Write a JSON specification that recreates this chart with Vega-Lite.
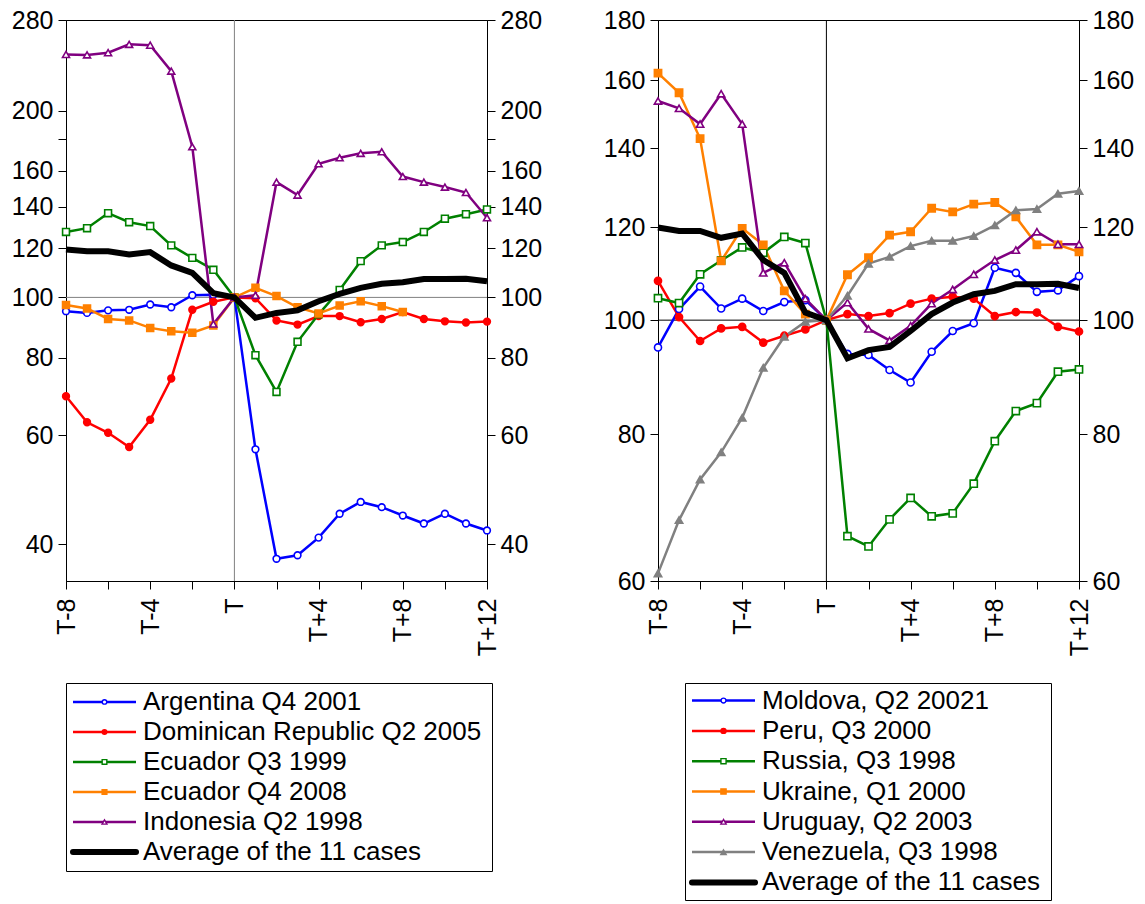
{
  "$schema": "https://vega.github.io/schema/vega-lite/v6.json",
  "background": "white",
  "padding": {"left": 10, "top": 7, "right": 0, "bottom": 0},
  "config": {
    "font": "Liberation Sans",
    "view": {"stroke": "black", "strokeWidth": 1},
    "axis": {"labelFont": "Liberation Sans", "labelFontSize": 25, "labelColor": "black", "domainColor": "black", "tickColor": "black", "tickSize": 8, "grid": false, "title": null, "labelPadding": 5, "labelOverlap": false, "labelFlush": false, "labelBound": false},
    "axisX": {"values": [-8, -7, -6, -5, -4, -3, -2, -1, 0, 1, 2, 3, 4, 5, 6, 7, 8, 9, 10, 11, 12], "labelExpr": "datum.value % 4 == 0 ? (datum.value == 0 ? 'T' : (datum.value > 0 ? 'T+' + datum.value : 'T' + datum.value)) : ''", "labelAngle": 270, "labelPadding": 9}
  },
  "datasets": {
    "left": [
      {"t": -8, "Argentina Q4 2001": 95.0, "Dominican Republic Q2 2005": 69.3, "Ecuador Q3 1999": 127.5, "Ecuador Q4 2008": 97.2, "Indonesia Q2 1998": 246.4, "Average of the 11 cases": 119.5},
      {"t": -7, "Argentina Q4 2001": 94.4, "Dominican Republic Q2 2005": 62.9, "Ecuador Q3 1999": 129.3, "Ecuador Q4 2008": 96.0, "Indonesia Q2 1998": 246.0, "Average of the 11 cases": 118.7},
      {"t": -6, "Argentina Q4 2001": 95.3, "Dominican Republic Q2 2005": 60.5, "Ecuador Q3 1999": 136.7, "Ecuador Q4 2008": 92.3, "Indonesia Q2 1998": 248.0, "Average of the 11 cases": 118.7},
      {"t": -5, "Argentina Q4 2001": 95.5, "Dominican Republic Q2 2005": 57.4, "Ecuador Q3 1999": 132.2, "Ecuador Q4 2008": 91.8, "Indonesia Q2 1998": 255.8, "Average of the 11 cases": 117.3},
      {"t": -4, "Argentina Q4 2001": 97.4, "Dominican Republic Q2 2005": 63.5, "Ecuador Q3 1999": 130.3, "Ecuador Q4 2008": 89.3, "Indonesia Q2 1998": 255.0, "Average of the 11 cases": 118.3},
      {"t": -3, "Argentina Q4 2001": 96.4, "Dominican Republic Q2 2005": 74.0, "Ecuador Q3 1999": 121.3, "Ecuador Q4 2008": 88.2, "Indonesia Q2 1998": 231.6, "Average of the 11 cases": 112.6},
      {"t": -2, "Argentina Q4 2001": 100.8, "Dominican Republic Q2 2005": 95.5, "Ecuador Q3 1999": 115.8, "Ecuador Q4 2008": 87.7, "Indonesia Q2 1998": 174.9, "Average of the 11 cases": 109.5},
      {"t": -1, "Argentina Q4 2001": 101.0, "Dominican Republic Q2 2005": 98.4, "Ecuador Q3 1999": 110.8, "Ecuador Q4 2008": 90.1, "Indonesia Q2 1998": 90.6, "Average of the 11 cases": 101.6},
      {"t": 0, "Argentina Q4 2001": 100, "Dominican Republic Q2 2005": 100, "Ecuador Q3 1999": 100, "Ecuador Q4 2008": 100, "Indonesia Q2 1998": 100, "Average of the 11 cases": 100},
      {"t": 1, "Argentina Q4 2001": 56.9, "Dominican Republic Q2 2005": 99.7, "Ecuador Q3 1999": 80.7, "Ecuador Q4 2008": 103.6, "Indonesia Q2 1998": 100.8, "Average of the 11 cases": 92.7},
      {"t": 2, "Argentina Q4 2001": 37.9, "Dominican Republic Q2 2005": 91.8, "Ecuador Q3 1999": 70.4, "Ecuador Q4 2008": 100.5, "Indonesia Q2 1998": 153.4, "Average of the 11 cases": 94.4},
      {"t": 3, "Argentina Q4 2001": 38.4, "Dominican Republic Q2 2005": 90.4, "Ecuador Q3 1999": 84.8, "Ecuador Q4 2008": 96.4, "Indonesia Q2 1998": 146.2, "Average of the 11 cases": 95.3},
      {"t": 4, "Argentina Q4 2001": 41.0, "Dominican Republic Q2 2005": 93.3, "Ecuador Q3 1999": 93.9, "Ecuador Q4 2008": 94.2, "Indonesia Q2 1998": 164.2, "Average of the 11 cases": 98.6},
      {"t": 5, "Argentina Q4 2001": 44.8, "Dominican Republic Q2 2005": 93.3, "Ecuador Q3 1999": 102.8, "Ecuador Q4 2008": 97.0, "Indonesia Q2 1998": 167.9, "Average of the 11 cases": 101.3},
      {"t": 6, "Argentina Q4 2001": 46.8, "Dominican Republic Q2 2005": 91.2, "Ecuador Q3 1999": 114.4, "Ecuador Q4 2008": 98.6, "Indonesia Q2 1998": 170.7, "Average of the 11 cases": 103.6},
      {"t": 7, "Argentina Q4 2001": 45.9, "Dominican Republic Q2 2005": 92.3, "Ecuador Q3 1999": 121.3, "Ecuador Q4 2008": 96.8, "Indonesia Q2 1998": 171.7, "Average of the 11 cases": 105.2},
      {"t": 8, "Argentina Q4 2001": 44.5, "Dominican Republic Q2 2005": 94.7, "Ecuador Q3 1999": 122.8, "Ecuador Q4 2008": 94.7, "Indonesia Q2 1998": 156.6, "Average of the 11 cases": 105.8},
      {"t": 9, "Argentina Q4 2001": 43.2, "Dominican Republic Q2 2005": 92.3, "Ecuador Q3 1999": 127.5, "Indonesia Q2 1998": 153.4, "Average of the 11 cases": 107.1},
      {"t": 10, "Argentina Q4 2001": 44.8, "Dominican Republic Q2 2005": 91.5, "Ecuador Q3 1999": 133.9, "Indonesia Q2 1998": 150.6, "Average of the 11 cases": 107.1},
      {"t": 11, "Argentina Q4 2001": 43.2, "Dominican Republic Q2 2005": 91.1, "Ecuador Q3 1999": 136.2, "Indonesia Q2 1998": 147.6, "Average of the 11 cases": 107.2},
      {"t": 12, "Argentina Q4 2001": 42.1, "Dominican Republic Q2 2005": 91.4, "Ecuador Q3 1999": 138.6, "Indonesia Q2 1998": 134.4, "Average of the 11 cases": 106.2}
    ],
    "right": [
      {"t": -8, "Moldova, Q2 20021": 94.8, "Peru, Q3 2000": 108.0, "Russia, Q3 1998": 104.4, "Ukraine, Q1 2000": 162.2, "Uruguay, Q2 2003": 153.6, "Venezuela, Q3 1998": 60.9, "Average of the 11 cases": 119.9},
      {"t": -7, "Moldova, Q2 20021": 102.2, "Peru, Q3 2000": 100.6, "Russia, Q3 1998": 103.4, "Ukraine, Q1 2000": 156.1, "Uruguay, Q2 2003": 151.4, "Venezuela, Q3 1998": 67.6, "Average of the 11 cases": 119.1},
      {"t": -6, "Moldova, Q2 20021": 106.8, "Peru, Q3 2000": 96.0, "Russia, Q3 1998": 109.4, "Ukraine, Q1 2000": 142.7, "Uruguay, Q2 2003": 146.8, "Venezuela, Q3 1998": 73.2, "Average of the 11 cases": 119.1},
      {"t": -5, "Moldova, Q2 20021": 102.3, "Peru, Q3 2000": 98.4, "Russia, Q3 1998": 112.4, "Ukraine, Q1 2000": 112.3, "Uruguay, Q2 2003": 155.8, "Venezuela, Q3 1998": 77.2, "Average of the 11 cases": 117.5},
      {"t": -4, "Moldova, Q2 20021": 104.3, "Peru, Q3 2000": 98.7, "Russia, Q3 1998": 115.3, "Ukraine, Q1 2000": 119.7, "Uruguay, Q2 2003": 146.8, "Venezuela, Q3 1998": 82.6, "Average of the 11 cases": 118.5},
      {"t": -3, "Moldova, Q2 20021": 101.8, "Peru, Q3 2000": 95.7, "Russia, Q3 1998": 114.1, "Ukraine, Q1 2000": 115.9, "Uruguay, Q2 2003": 109.7, "Venezuela, Q3 1998": 91.1, "Average of the 11 cases": 112.5},
      {"t": -2, "Moldova, Q2 20021": 103.6, "Peru, Q3 2000": 97.0, "Russia, Q3 1998": 117.7, "Ukraine, Q1 2000": 105.9, "Uruguay, Q2 2003": 111.9, "Venezuela, Q3 1998": 96.8, "Average of the 11 cases": 109.7},
      {"t": -1, "Moldova, Q2 20021": 104.0, "Peru, Q3 2000": 98.2, "Russia, Q3 1998": 116.3, "Ukraine, Q1 2000": 101.2, "Uruguay, Q2 2003": 104.3, "Venezuela, Q3 1998": 99.7, "Average of the 11 cases": 101.5},
      {"t": 0, "Moldova, Q2 20021": 100, "Peru, Q3 2000": 100, "Russia, Q3 1998": 100, "Ukraine, Q1 2000": 100, "Uruguay, Q2 2003": 100, "Venezuela, Q3 1998": 100, "Average of the 11 cases": 100},
      {"t": 1, "Moldova, Q2 20021": 93.6, "Peru, Q3 2000": 101.2, "Russia, Q3 1998": 65.5, "Ukraine, Q1 2000": 109.3, "Uruguay, Q2 2003": 103.5, "Venezuela, Q3 1998": 104.9, "Average of the 11 cases": 92.8},
      {"t": 2, "Moldova, Q2 20021": 93.4, "Peru, Q3 2000": 100.8, "Russia, Q3 1998": 64.2, "Ukraine, Q1 2000": 113.0, "Uruguay, Q2 2003": 98.3, "Venezuela, Q3 1998": 111.7, "Average of the 11 cases": 94.3},
      {"t": 3, "Moldova, Q2 20021": 90.7, "Peru, Q3 2000": 101.4, "Russia, Q3 1998": 67.7, "Ukraine, Q1 2000": 118.1, "Uruguay, Q2 2003": 96.1, "Venezuela, Q3 1998": 113.2, "Average of the 11 cases": 94.9},
      {"t": 4, "Moldova, Q2 20021": 88.5, "Peru, Q3 2000": 103.3, "Russia, Q3 1998": 70.6, "Ukraine, Q1 2000": 118.9, "Uruguay, Q2 2003": 98.9, "Venezuela, Q3 1998": 115.6, "Average of the 11 cases": 97.9},
      {"t": 5, "Moldova, Q2 20021": 94.0, "Peru, Q3 2000": 104.3, "Russia, Q3 1998": 68.1, "Ukraine, Q1 2000": 124.5, "Uruguay, Q2 2003": 103.3, "Venezuela, Q3 1998": 116.8, "Average of the 11 cases": 101.2},
      {"t": 6, "Moldova, Q2 20021": 97.9, "Peru, Q3 2000": 104.7, "Russia, Q3 1998": 68.5, "Ukraine, Q1 2000": 123.6, "Uruguay, Q2 2003": 106.2, "Venezuela, Q3 1998": 116.8, "Average of the 11 cases": 103.5},
      {"t": 7, "Moldova, Q2 20021": 99.4, "Peru, Q3 2000": 104.3, "Russia, Q3 1998": 72.6, "Ukraine, Q1 2000": 125.5, "Uruguay, Q2 2003": 109.4, "Venezuela, Q3 1998": 117.9, "Average of the 11 cases": 105.2},
      {"t": 8, "Moldova, Q2 20021": 110.8, "Peru, Q3 2000": 100.8, "Russia, Q3 1998": 78.9, "Ukraine, Q1 2000": 125.9, "Uruguay, Q2 2003": 112.5, "Venezuela, Q3 1998": 120.4, "Average of the 11 cases": 105.9},
      {"t": 9, "Moldova, Q2 20021": 109.7, "Peru, Q3 2000": 101.6, "Russia, Q3 1998": 83.7, "Ukraine, Q1 2000": 122.4, "Uruguay, Q2 2003": 114.7, "Venezuela, Q3 1998": 124.0, "Average of the 11 cases": 107.3},
      {"t": 10, "Moldova, Q2 20021": 105.7, "Peru, Q3 2000": 101.5, "Russia, Q3 1998": 85.0, "Ukraine, Q1 2000": 115.9, "Uruguay, Q2 2003": 118.9, "Venezuela, Q3 1998": 124.3, "Average of the 11 cases": 107.3},
      {"t": 11, "Moldova, Q2 20021": 106.0, "Peru, Q3 2000": 98.7, "Russia, Q3 1998": 90.4, "Ukraine, Q1 2000": 115.9, "Uruguay, Q2 2003": 116.0, "Venezuela, Q3 1998": 128.1, "Average of the 11 cases": 107.4},
      {"t": 12, "Moldova, Q2 20021": 109.0, "Peru, Q3 2000": 97.8, "Russia, Q3 1998": 90.8, "Ukraine, Q1 2000": 114.3, "Uruguay, Q2 2003": 116.0, "Venezuela, Q3 1998": 128.8, "Average of the 11 cases": 106.5}
    ],
    "legL": [
      {"s": "Argentina Q4 2001"}, {"s": "Dominican Republic Q2 2005"}, {"s": "Ecuador Q3 1999"}, {"s": "Ecuador Q4 2008"}, {"s": "Indonesia Q2 1998"}, {"s": "Average of the 11 cases"}
    ],
    "legR": [
      {"s": "Moldova, Q2 20021"}, {"s": "Peru, Q3 2000"}, {"s": "Russia, Q3 1998"}, {"s": "Ukraine, Q1 2000"}, {"s": "Uruguay, Q2 2003"}, {"s": "Venezuela, Q3 1998"}, {"s": "Average of the 11 cases"}
    ]
  },
  "resolve": {"scale": {"size": "independent"}},
  "spacing": 25,
  "vconcat": [
    {
      "spacing": 59,
      "hconcat": [
        {
          "width": 421, "height": 561,
          "data": {"name": "left"},
          "resolve": {"axis": {"y": "independent"}},
          "layer": [
            {
              "data": {"values": [{}]},
              "mark": {"type": "rule", "color": "#808080", "strokeWidth": 1},
              "encoding": {"y": {"datum": 100, "type": "quantitative", "scale": {"type": "log", "domain": [34.9, 280], "nice": false}, "axis": {"orient": "right", "values": [40, 60, 80, 100, 120, 140, 160, 180, 200, 280], "labelExpr": "datum.value == 180 ? '' : datum.label", "format": "d"}}}
            },
            {
              "data": {"values": [{}]},
              "mark": {"type": "rule", "color": "#808080", "strokeWidth": 1},
              "encoding": {"x": {"datum": 0, "type": "quantitative", "scale": {"domain": [-8, 12], "nice": false, "zero": false}}}
            },
            {
              "transform": [{"fold": ["Argentina Q4 2001", "Dominican Republic Q2 2005", "Ecuador Q3 1999", "Ecuador Q4 2008", "Indonesia Q2 1998"], "as": ["s", "v"]}],
              "mark": {"type": "line"},
              "encoding": {
                "x": {"field": "t", "type": "quantitative", "scale": {"domain": [-8, 12], "nice": false, "zero": false}},
                "y": {"field": "v", "type": "quantitative", "scale": {"type": "log", "domain": [34.9, 280], "nice": false}, "axis": {"orient": "left", "values": [40, 60, 80, 100, 120, 140, 160, 180, 200, 280], "labelExpr": "datum.value == 180 ? '' : datum.label", "format": "d"}},
                "color": {"field": "s", "type": "nominal", "legend": null, "scale": {"domain": ["Argentina Q4 2001", "Dominican Republic Q2 2005", "Ecuador Q3 1999", "Ecuador Q4 2008", "Indonesia Q2 1998", "Moldova, Q2 20021", "Peru, Q3 2000", "Russia, Q3 1998", "Ukraine, Q1 2000", "Uruguay, Q2 2003", "Venezuela, Q3 1998", "Average of the 11 cases"], "range": ["#0000ff", "#ff0000", "#008000", "#ff8000", "#800080", "#0000ff", "#ff0000", "#008000", "#ff8000", "#800080", "#808080", "#000000"]}},
                "strokeWidth": {"value": 2.5}
              }
            },
            {
              "transform": [{"fold": ["Argentina Q4 2001", "Dominican Republic Q2 2005", "Ecuador Q3 1999", "Ecuador Q4 2008", "Indonesia Q2 1998"], "as": ["s", "v"]}],
              "mark": {"type": "point", "opacity": 1, "strokeWidth": 1.6},
              "encoding": {
                "x": {"field": "t", "type": "quantitative", "scale": {"domain": [-8, 12], "nice": false, "zero": false}},
                "y": {"field": "v", "type": "quantitative", "scale": {"type": "log", "domain": [34.9, 280], "nice": false}, "axis": null},
                "stroke": {"field": "s", "type": "nominal", "legend": null, "scale": {"domain": ["Argentina Q4 2001", "Dominican Republic Q2 2005", "Ecuador Q3 1999", "Ecuador Q4 2008", "Indonesia Q2 1998", "Moldova, Q2 20021", "Peru, Q3 2000", "Russia, Q3 1998", "Ukraine, Q1 2000", "Uruguay, Q2 2003", "Venezuela, Q3 1998", "Average of the 11 cases"], "range": ["#0000ff", "#ff0000", "#008000", "#ff8000", "#800080", "#0000ff", "#ff0000", "#008000", "#ff8000", "#800080", "#808080", "#000000"]}},
                "fill": {"field": "s", "type": "nominal", "legend": null, "scale": {"domain": ["Argentina Q4 2001", "Dominican Republic Q2 2005", "Ecuador Q3 1999", "Ecuador Q4 2008", "Indonesia Q2 1998", "Moldova, Q2 20021", "Peru, Q3 2000", "Russia, Q3 1998", "Ukraine, Q1 2000", "Uruguay, Q2 2003", "Venezuela, Q3 1998", "Average of the 11 cases"], "range": ["#ffffff", "#ff0000", "#ffffff", "#ff8000", "#ffffff", "#ffffff", "#ff0000", "#ffffff", "#ff8000", "#ffffff", "#808080", "#000000"]}},
                "shape": {"field": "s", "type": "nominal", "legend": null, "scale": {"domain": ["Argentina Q4 2001", "Dominican Republic Q2 2005", "Ecuador Q3 1999", "Ecuador Q4 2008", "Indonesia Q2 1998", "Moldova, Q2 20021", "Peru, Q3 2000", "Russia, Q3 1998", "Ukraine, Q1 2000", "Uruguay, Q2 2003", "Venezuela, Q3 1998", "Average of the 11 cases"], "range": ["circle", "circle", "square", "square", "triangle-up", "circle", "circle", "square", "square", "triangle-up", "triangle-up", "circle"]}},
                "size": {"field": "s", "type": "nominal", "legend": null, "scale": {"domain": ["Argentina Q4 2001", "Dominican Republic Q2 2005", "Ecuador Q3 1999", "Ecuador Q4 2008", "Indonesia Q2 1998", "Moldova, Q2 20021", "Peru, Q3 2000", "Russia, Q3 1998", "Ukraine, Q1 2000", "Uruguay, Q2 2003", "Venezuela, Q3 1998", "Average of the 11 cases"], "range": [45, 55, 64, 70, 85, 45, 55, 64, 70, 85, 85, 0]}}
              }
            },
            {
              "transform": [{"fold": ["Average of the 11 cases"], "as": ["s", "v"]}],
              "mark": {"type": "line", "color": "#000000", "strokeWidth": 6},
              "encoding": {
                "x": {"field": "t", "type": "quantitative", "scale": {"domain": [-8, 12], "nice": false, "zero": false}},
                "y": {"field": "v", "type": "quantitative", "scale": {"type": "log", "domain": [34.9, 280], "nice": false}, "axis": null}
              }
            }
          ]
        },
        {
          "width": 421, "height": 561,
          "data": {"name": "right"},
          "resolve": {"axis": {"y": "independent"}},
          "layer": [
            {
              "data": {"values": [{}]},
              "mark": {"type": "rule", "color": "#000000", "strokeWidth": 1},
              "encoding": {"y": {"datum": 100, "type": "quantitative", "scale": {"type": "log", "domain": [60, 180], "nice": false}, "axis": {"orient": "right", "values": [60, 80, 100, 120, 140, 160, 180], "format": "d"}}}
            },
            {
              "data": {"values": [{}]},
              "mark": {"type": "rule", "color": "#000000", "strokeWidth": 1},
              "encoding": {"x": {"datum": 0, "type": "quantitative", "scale": {"domain": [-8, 12], "nice": false, "zero": false}}}
            },
            {
              "transform": [{"fold": ["Moldova, Q2 20021", "Peru, Q3 2000", "Russia, Q3 1998", "Ukraine, Q1 2000", "Uruguay, Q2 2003", "Venezuela, Q3 1998"], "as": ["s", "v"]}],
              "mark": {"type": "line"},
              "encoding": {
                "x": {"field": "t", "type": "quantitative", "scale": {"domain": [-8, 12], "nice": false, "zero": false}},
                "y": {"field": "v", "type": "quantitative", "scale": {"type": "log", "domain": [60, 180], "nice": false}, "axis": {"orient": "left", "values": [60, 80, 100, 120, 140, 160, 180], "format": "d"}},
                "color": {"field": "s", "type": "nominal", "legend": null, "scale": {"domain": ["Argentina Q4 2001", "Dominican Republic Q2 2005", "Ecuador Q3 1999", "Ecuador Q4 2008", "Indonesia Q2 1998", "Moldova, Q2 20021", "Peru, Q3 2000", "Russia, Q3 1998", "Ukraine, Q1 2000", "Uruguay, Q2 2003", "Venezuela, Q3 1998", "Average of the 11 cases"], "range": ["#0000ff", "#ff0000", "#008000", "#ff8000", "#800080", "#0000ff", "#ff0000", "#008000", "#ff8000", "#800080", "#808080", "#000000"]}},
                "strokeWidth": {"value": 2.5}
              }
            },
            {
              "transform": [{"fold": ["Moldova, Q2 20021", "Peru, Q3 2000", "Russia, Q3 1998", "Ukraine, Q1 2000", "Uruguay, Q2 2003", "Venezuela, Q3 1998"], "as": ["s", "v"]}],
              "mark": {"type": "point", "opacity": 1, "strokeWidth": 1.6},
              "encoding": {
                "x": {"field": "t", "type": "quantitative", "scale": {"domain": [-8, 12], "nice": false, "zero": false}},
                "y": {"field": "v", "type": "quantitative", "scale": {"type": "log", "domain": [60, 180], "nice": false}, "axis": null},
                "stroke": {"field": "s", "type": "nominal", "legend": null, "scale": {"domain": ["Argentina Q4 2001", "Dominican Republic Q2 2005", "Ecuador Q3 1999", "Ecuador Q4 2008", "Indonesia Q2 1998", "Moldova, Q2 20021", "Peru, Q3 2000", "Russia, Q3 1998", "Ukraine, Q1 2000", "Uruguay, Q2 2003", "Venezuela, Q3 1998", "Average of the 11 cases"], "range": ["#0000ff", "#ff0000", "#008000", "#ff8000", "#800080", "#0000ff", "#ff0000", "#008000", "#ff8000", "#800080", "#808080", "#000000"]}},
                "fill": {"field": "s", "type": "nominal", "legend": null, "scale": {"domain": ["Argentina Q4 2001", "Dominican Republic Q2 2005", "Ecuador Q3 1999", "Ecuador Q4 2008", "Indonesia Q2 1998", "Moldova, Q2 20021", "Peru, Q3 2000", "Russia, Q3 1998", "Ukraine, Q1 2000", "Uruguay, Q2 2003", "Venezuela, Q3 1998", "Average of the 11 cases"], "range": ["#ffffff", "#ff0000", "#ffffff", "#ff8000", "#ffffff", "#ffffff", "#ff0000", "#ffffff", "#ff8000", "#ffffff", "#808080", "#000000"]}},
                "shape": {"field": "s", "type": "nominal", "legend": null, "scale": {"domain": ["Argentina Q4 2001", "Dominican Republic Q2 2005", "Ecuador Q3 1999", "Ecuador Q4 2008", "Indonesia Q2 1998", "Moldova, Q2 20021", "Peru, Q3 2000", "Russia, Q3 1998", "Ukraine, Q1 2000", "Uruguay, Q2 2003", "Venezuela, Q3 1998", "Average of the 11 cases"], "range": ["circle", "circle", "square", "square", "triangle-up", "circle", "circle", "square", "square", "triangle-up", "triangle-up", "circle"]}},
                "size": {"field": "s", "type": "nominal", "legend": null, "scale": {"domain": ["Argentina Q4 2001", "Dominican Republic Q2 2005", "Ecuador Q3 1999", "Ecuador Q4 2008", "Indonesia Q2 1998", "Moldova, Q2 20021", "Peru, Q3 2000", "Russia, Q3 1998", "Ukraine, Q1 2000", "Uruguay, Q2 2003", "Venezuela, Q3 1998", "Average of the 11 cases"], "range": [45, 55, 64, 70, 85, 45, 55, 64, 70, 85, 85, 0]}}
              }
            },
            {
              "transform": [{"fold": ["Average of the 11 cases"], "as": ["s", "v"]}],
              "mark": {"type": "line", "color": "#000000", "strokeWidth": 6},
              "encoding": {
                "x": {"field": "t", "type": "quantitative", "scale": {"domain": [-8, 12], "nice": false, "zero": false}},
                "y": {"field": "v", "type": "quantitative", "scale": {"type": "log", "domain": [60, 180], "nice": false}, "axis": null}
              }
            }
          ]
        }
      ]
    },
    {
      "spacing": 191,
      "hconcat": [
        {
          "width": 426, "height": 188,
          "data": {"name": "legL"},
          "layer": [
            {
              "transform": [{"filter": {"not": {"field": "s", "equal": "Average of the 11 cases"}}}],
              "mark": {"type": "rule", "strokeWidth": 2.5},
              "encoding": {
                "x": {"datum": 7, "type": "quantitative", "scale": {"domain": [0, 426], "nice": false, "zero": false}, "axis": null},
                "x2": {"datum": 70},
                "y": {"field": "s", "type": "nominal", "sort": null, "scale": {"type": "point", "padding": 0.63}, "axis": null},
                "color": {"field": "s", "type": "nominal", "legend": null, "scale": {"domain": ["Argentina Q4 2001", "Dominican Republic Q2 2005", "Ecuador Q3 1999", "Ecuador Q4 2008", "Indonesia Q2 1998", "Moldova, Q2 20021", "Peru, Q3 2000", "Russia, Q3 1998", "Ukraine, Q1 2000", "Uruguay, Q2 2003", "Venezuela, Q3 1998", "Average of the 11 cases"], "range": ["#0000ff", "#ff0000", "#008000", "#ff8000", "#800080", "#0000ff", "#ff0000", "#008000", "#ff8000", "#800080", "#808080", "#000000"]}}
              }
            },
            {
              "transform": [{"filter": {"field": "s", "equal": "Average of the 11 cases"}}],
              "mark": {"type": "rule", "strokeWidth": 6, "color": "#000000", "strokeCap": "round"},
              "encoding": {
                "x": {"datum": 7, "type": "quantitative", "axis": null},
                "x2": {"datum": 70},
                "y": {"field": "s", "type": "nominal", "sort": null, "axis": null}
              }
            },
            {
              "transform": [{"filter": {"not": {"field": "s", "equal": "Average of the 11 cases"}}}],
              "mark": {"type": "point", "opacity": 1, "strokeWidth": 1.4},
              "encoding": {
                "x": {"datum": 38.5, "type": "quantitative", "axis": null},
                "y": {"field": "s", "type": "nominal", "sort": null, "axis": null},
                "stroke": {"field": "s", "type": "nominal", "legend": null, "scale": {"domain": ["Argentina Q4 2001", "Dominican Republic Q2 2005", "Ecuador Q3 1999", "Ecuador Q4 2008", "Indonesia Q2 1998", "Moldova, Q2 20021", "Peru, Q3 2000", "Russia, Q3 1998", "Ukraine, Q1 2000", "Uruguay, Q2 2003", "Venezuela, Q3 1998", "Average of the 11 cases"], "range": ["#0000ff", "#ff0000", "#008000", "#ff8000", "#800080", "#0000ff", "#ff0000", "#008000", "#ff8000", "#800080", "#808080", "#000000"]}},
                "fill": {"field": "s", "type": "nominal", "legend": null, "scale": {"domain": ["Argentina Q4 2001", "Dominican Republic Q2 2005", "Ecuador Q3 1999", "Ecuador Q4 2008", "Indonesia Q2 1998", "Moldova, Q2 20021", "Peru, Q3 2000", "Russia, Q3 1998", "Ukraine, Q1 2000", "Uruguay, Q2 2003", "Venezuela, Q3 1998", "Average of the 11 cases"], "range": ["#ffffff", "#ff0000", "#ffffff", "#ff8000", "#ffffff", "#ffffff", "#ff0000", "#ffffff", "#ff8000", "#ffffff", "#808080", "#000000"]}},
                "shape": {"field": "s", "type": "nominal", "legend": null, "scale": {"domain": ["Argentina Q4 2001", "Dominican Republic Q2 2005", "Ecuador Q3 1999", "Ecuador Q4 2008", "Indonesia Q2 1998", "Moldova, Q2 20021", "Peru, Q3 2000", "Russia, Q3 1998", "Ukraine, Q1 2000", "Uruguay, Q2 2003", "Venezuela, Q3 1998", "Average of the 11 cases"], "range": ["circle", "circle", "square", "square", "triangle-up", "circle", "circle", "square", "square", "triangle-up", "triangle-up", "circle"]}},
                "size": {"field": "s", "type": "nominal", "legend": null, "scale": {"domain": ["Argentina Q4 2001", "Dominican Republic Q2 2005", "Ecuador Q3 1999", "Ecuador Q4 2008", "Indonesia Q2 1998", "Moldova, Q2 20021", "Peru, Q3 2000", "Russia, Q3 1998", "Ukraine, Q1 2000", "Uruguay, Q2 2003", "Venezuela, Q3 1998", "Average of the 11 cases"], "range": [20, 30, 30, 36, 36, 20, 30, 30, 36, 36, 36, 0]}}
              }
            },
            {
              "mark": {"type": "text", "align": "left", "baseline": "middle", "fontSize": 26, "font": "Liberation Sans", "color": "#000000"},
              "encoding": {
                "x": {"datum": 77, "type": "quantitative", "axis": null},
                "y": {"field": "s", "type": "nominal", "sort": null, "axis": null},
                "text": {"field": "s"}
              }
            }
          ]
        },
        {
          "width": 366, "height": 217,
          "data": {"name": "legR"},
          "layer": [
            {
              "transform": [{"filter": {"not": {"field": "s", "equal": "Average of the 11 cases"}}}],
              "mark": {"type": "rule", "strokeWidth": 2.5},
              "encoding": {
                "x": {"datum": 7, "type": "quantitative", "scale": {"domain": [0, 366], "nice": false, "zero": false}, "axis": null},
                "x2": {"datum": 70},
                "y": {"field": "s", "type": "nominal", "sort": null, "scale": {"type": "point", "padding": 0.58}, "axis": null},
                "color": {"field": "s", "type": "nominal", "legend": null, "scale": {"domain": ["Argentina Q4 2001", "Dominican Republic Q2 2005", "Ecuador Q3 1999", "Ecuador Q4 2008", "Indonesia Q2 1998", "Moldova, Q2 20021", "Peru, Q3 2000", "Russia, Q3 1998", "Ukraine, Q1 2000", "Uruguay, Q2 2003", "Venezuela, Q3 1998", "Average of the 11 cases"], "range": ["#0000ff", "#ff0000", "#008000", "#ff8000", "#800080", "#0000ff", "#ff0000", "#008000", "#ff8000", "#800080", "#808080", "#000000"]}}
              }
            },
            {
              "transform": [{"filter": {"field": "s", "equal": "Average of the 11 cases"}}],
              "mark": {"type": "rule", "strokeWidth": 6, "color": "#000000", "strokeCap": "round"},
              "encoding": {
                "x": {"datum": 7, "type": "quantitative", "axis": null},
                "x2": {"datum": 70},
                "y": {"field": "s", "type": "nominal", "sort": null, "axis": null}
              }
            },
            {
              "transform": [{"filter": {"not": {"field": "s", "equal": "Average of the 11 cases"}}}],
              "mark": {"type": "point", "opacity": 1, "strokeWidth": 1.4},
              "encoding": {
                "x": {"datum": 38.5, "type": "quantitative", "axis": null},
                "y": {"field": "s", "type": "nominal", "sort": null, "axis": null},
                "stroke": {"field": "s", "type": "nominal", "legend": null, "scale": {"domain": ["Argentina Q4 2001", "Dominican Republic Q2 2005", "Ecuador Q3 1999", "Ecuador Q4 2008", "Indonesia Q2 1998", "Moldova, Q2 20021", "Peru, Q3 2000", "Russia, Q3 1998", "Ukraine, Q1 2000", "Uruguay, Q2 2003", "Venezuela, Q3 1998", "Average of the 11 cases"], "range": ["#0000ff", "#ff0000", "#008000", "#ff8000", "#800080", "#0000ff", "#ff0000", "#008000", "#ff8000", "#800080", "#808080", "#000000"]}},
                "fill": {"field": "s", "type": "nominal", "legend": null, "scale": {"domain": ["Argentina Q4 2001", "Dominican Republic Q2 2005", "Ecuador Q3 1999", "Ecuador Q4 2008", "Indonesia Q2 1998", "Moldova, Q2 20021", "Peru, Q3 2000", "Russia, Q3 1998", "Ukraine, Q1 2000", "Uruguay, Q2 2003", "Venezuela, Q3 1998", "Average of the 11 cases"], "range": ["#ffffff", "#ff0000", "#ffffff", "#ff8000", "#ffffff", "#ffffff", "#ff0000", "#ffffff", "#ff8000", "#ffffff", "#808080", "#000000"]}},
                "shape": {"field": "s", "type": "nominal", "legend": null, "scale": {"domain": ["Argentina Q4 2001", "Dominican Republic Q2 2005", "Ecuador Q3 1999", "Ecuador Q4 2008", "Indonesia Q2 1998", "Moldova, Q2 20021", "Peru, Q3 2000", "Russia, Q3 1998", "Ukraine, Q1 2000", "Uruguay, Q2 2003", "Venezuela, Q3 1998", "Average of the 11 cases"], "range": ["circle", "circle", "square", "square", "triangle-up", "circle", "circle", "square", "square", "triangle-up", "triangle-up", "circle"]}},
                "size": {"field": "s", "type": "nominal", "legend": null, "scale": {"domain": ["Argentina Q4 2001", "Dominican Republic Q2 2005", "Ecuador Q3 1999", "Ecuador Q4 2008", "Indonesia Q2 1998", "Moldova, Q2 20021", "Peru, Q3 2000", "Russia, Q3 1998", "Ukraine, Q1 2000", "Uruguay, Q2 2003", "Venezuela, Q3 1998", "Average of the 11 cases"], "range": [20, 30, 30, 36, 36, 20, 30, 30, 36, 36, 36, 0]}}
              }
            },
            {
              "mark": {"type": "text", "align": "left", "baseline": "middle", "fontSize": 26, "font": "Liberation Sans", "color": "#000000"},
              "encoding": {
                "x": {"datum": 77, "type": "quantitative", "axis": null},
                "y": {"field": "s", "type": "nominal", "sort": null, "axis": null},
                "text": {"field": "s"}
              }
            }
          ]
        }
      ]
    }
  ]
}
